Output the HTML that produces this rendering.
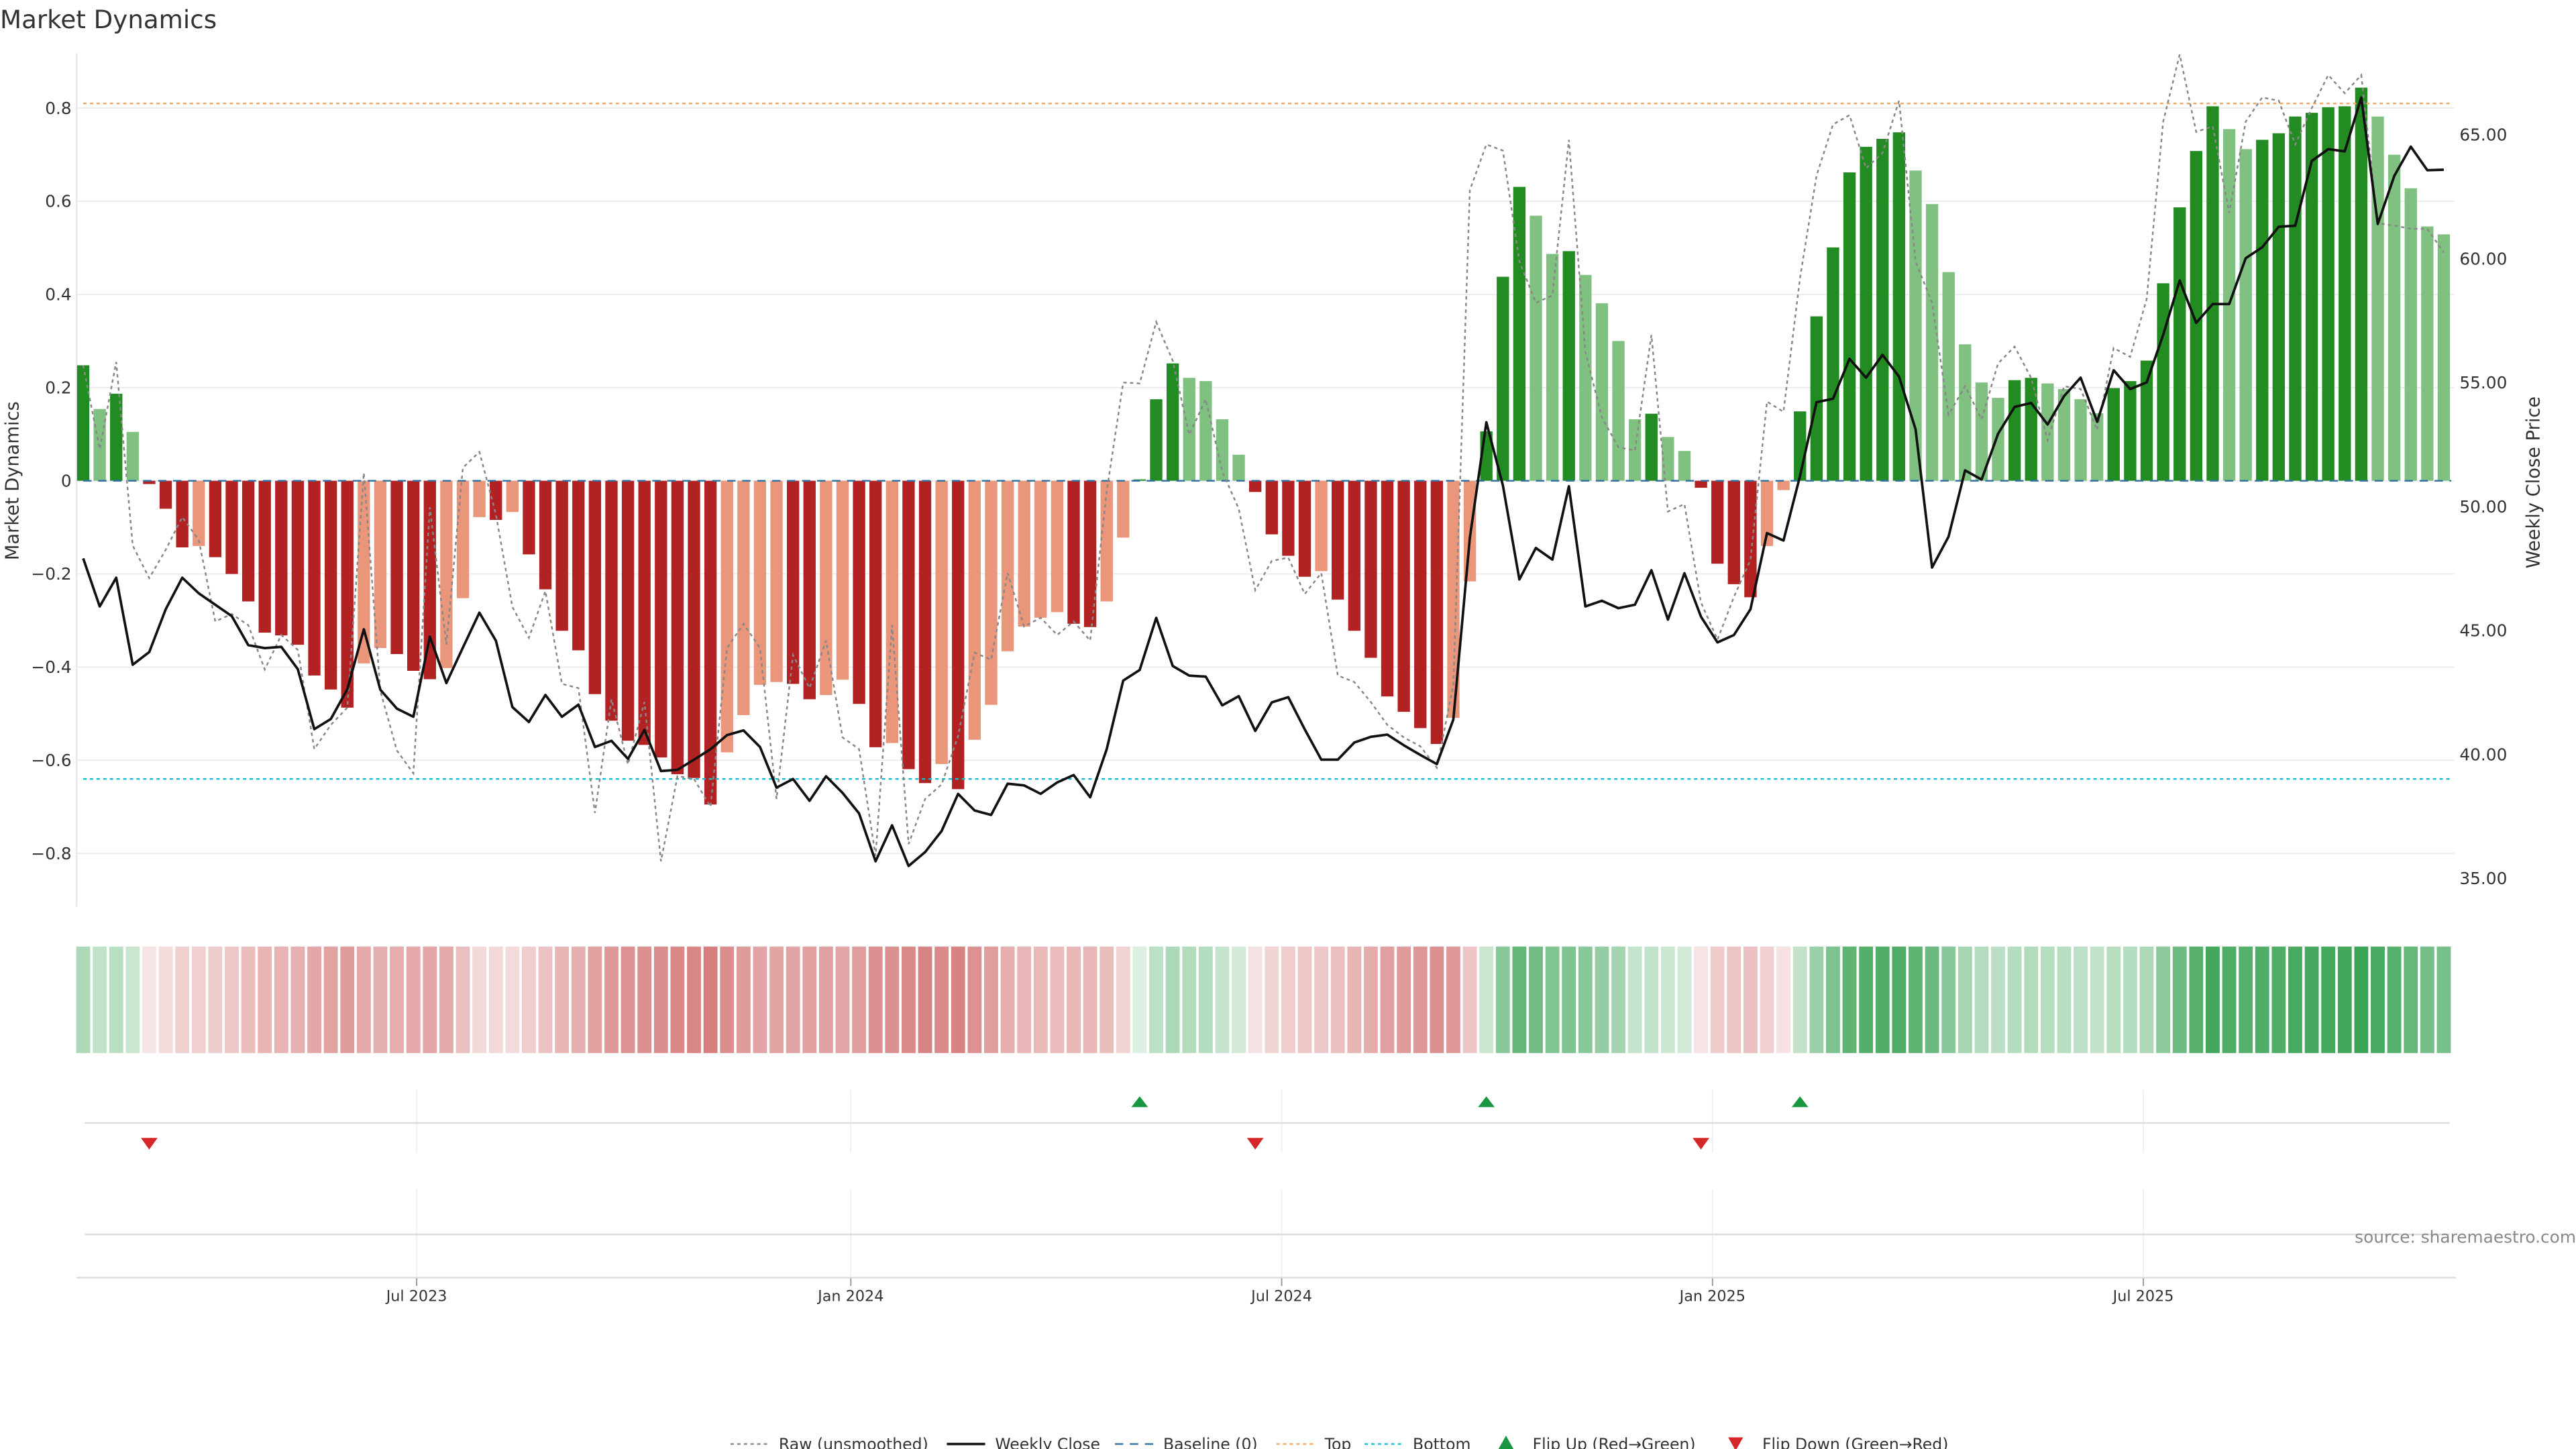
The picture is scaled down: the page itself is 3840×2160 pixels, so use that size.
<!DOCTYPE html>
<html><head><meta charset="utf-8"><style>
html,body{margin:0;padding:0;background:#fff;}
svg{display:block;font-family:"DejaVu Sans","Liberation Sans",sans-serif;}
</style></head><body>
<svg id="chart" width="3840" height="2160" viewBox="0 0 1548 871" preserveAspectRatio="none" xmlns="http://www.w3.org/2000/svg">
<text x="0" y="17" font-size="15" fill="#333">Market Dynamics</text>
<g id="main"></g>
<g id="strip"></g>
<g id="flips"></g>
<g id="legend"></g>
</svg>
<script>
const dyn = [0.248,0.154,0.187,0.105,-0.007,-0.06,-0.143,-0.14,-0.164,-0.2,-0.259,-0.326,-0.332,-0.352,-0.418,-0.448,-0.487,-0.392,-0.359,-0.372,-0.408,-0.426,-0.402,-0.252,-0.078,-0.084,-0.067,-0.158,-0.233,-0.322,-0.364,-0.458,-0.515,-0.558,-0.567,-0.594,-0.63,-0.638,-0.695,-0.583,-0.503,-0.438,-0.432,-0.436,-0.469,-0.46,-0.427,-0.479,-0.572,-0.563,-0.619,-0.649,-0.608,-0.662,-0.556,-0.481,-0.366,-0.313,-0.294,-0.282,-0.307,-0.314,-0.259,-0.122,0.003,0.175,0.252,0.221,0.214,0.132,0.056,-0.024,-0.115,-0.161,-0.206,-0.194,-0.255,-0.322,-0.38,-0.463,-0.496,-0.531,-0.565,-0.509,-0.216,0.106,0.438,0.631,0.569,0.487,0.493,0.442,0.381,0.3,0.132,0.144,0.094,0.064,-0.015,-0.178,-0.222,-0.25,-0.14,-0.02,0.149,0.353,0.501,0.662,0.717,0.734,0.748,0.666,0.594,0.448,0.293,0.211,0.178,0.216,0.221,0.209,0.197,0.175,0.145,0.199,0.214,0.258,0.424,0.587,0.708,0.804,0.755,0.712,0.732,0.746,0.782,0.79,0.802,0.804,0.844,0.782,0.7,0.628,0.546,0.529];
const raw = [0.248,0.068,0.255,-0.139,-0.209,-0.148,-0.078,-0.127,-0.302,-0.286,-0.31,-0.405,-0.331,-0.363,-0.576,-0.524,-0.487,0.017,-0.451,-0.579,-0.628,-0.057,-0.351,0.028,0.062,-0.072,-0.271,-0.337,-0.237,-0.436,-0.445,-0.713,-0.469,-0.609,-0.475,-0.817,-0.634,-0.64,-0.7,-0.359,-0.307,-0.359,-0.683,-0.374,-0.445,-0.343,-0.551,-0.576,-0.805,-0.31,-0.78,-0.683,-0.652,-0.548,-0.369,-0.384,-0.198,-0.313,-0.294,-0.331,-0.302,-0.343,-0.023,0.211,0.209,0.341,0.258,0.099,0.175,0.02,-0.06,-0.235,-0.172,-0.165,-0.243,-0.198,-0.418,-0.432,-0.475,-0.524,-0.551,-0.57,-0.616,-0.438,0.624,0.722,0.709,0.471,0.382,0.398,0.732,0.276,0.136,0.072,0.065,0.313,-0.066,-0.05,-0.261,-0.341,-0.249,-0.17,0.17,0.148,0.435,0.655,0.765,0.785,0.671,0.704,0.816,0.471,0.382,0.142,0.203,0.132,0.252,0.288,0.221,0.087,0.203,0.197,0.109,0.285,0.266,0.39,0.771,0.915,0.749,0.761,0.575,0.771,0.823,0.816,0.722,0.8,0.871,0.832,0.871,0.553,0.548,0.541,0.541,0.49];
const closePx = [47.91,45.97,47.13,43.62,44.13,45.86,47.13,46.5,46.04,45.58,44.41,44.29,44.34,43.44,41.02,41.43,42.63,45.05,42.61,41.85,41.52,44.75,42.88,44.31,45.72,44.59,41.91,41.31,42.4,41.52,42.01,40.3,40.55,39.82,40.99,39.33,39.38,39.79,40.21,40.78,40.97,40.3,38.66,39.01,38.13,39.12,38.45,37.62,35.69,37.14,35.5,36.06,36.91,38.41,37.74,37.56,38.82,38.75,38.41,38.87,39.17,38.27,40.21,42.98,43.41,45.51,43.57,43.18,43.14,41.98,42.35,40.95,42.1,42.31,41.01,39.79,39.79,40.48,40.71,40.8,40.37,39.98,39.61,41.41,48.74,53.4,50.86,47.06,48.33,47.86,50.82,45.97,46.2,45.9,46.04,47.43,45.44,47.31,45.56,44.52,44.82,45.86,48.93,48.63,51.23,54.21,54.35,55.96,55.2,56.12,55.24,53.12,47.54,48.79,51.46,51.09,52.94,54.02,54.18,53.31,54.46,55.2,53.42,55.5,54.74,55.01,56.93,59.12,57.41,58.17,58.17,60.02,60.46,61.29,61.33,63.94,64.42,64.33,66.5,61.4,63.34,64.52,63.57,63.59];
const leftTicks = [0.8,0.6,0.4,0.2,0,-0.2,-0.4,-0.6,-0.8];
const leftTickLabels = ["0.8","0.6","0.4","0.2","0","\u22120.2","\u22120.4","\u22120.6","\u22120.8"];
const rightTicks = [65,60,55,50,45,40,35];
const rightTickLabels = ["65.00","60.00","55.00","50.00","45.00","40.00","35.00"];
const dateTickWeeks = [20.2,46.5,72.6,98.7,124.8];
const dateTickLabels = ["Jul 2023","Jan 2024","Jul 2024","Jan 2025","Jul 2025"];
const topLevel = 0.81, bottomLevel = -0.64;

const NS="http://www.w3.org/2000/svg";
function mk(tag, attrs, parent){const e=document.createElementNS(NS,tag);for(const k in attrs)e.setAttribute(k,attrs[k]);parent.appendChild(e);return e;}
const X0=50, STEP=9.92;
const xs = i => X0 + i*STEP;
const yL = v => 289 - v*280;
const yR = p => 81 + (65-p)*14.9;
const PL=46, PR=1475;
const main=document.getElementById('main');

// grid
leftTicks.forEach((t,i)=>{
  const g=mk('line',{x1:PL,x2:PR,y1:yL(t),y2:yL(t),stroke:'#ececf0','stroke-width':0.8},main);
  
  
  const tx=mk('text',{x:43,y:yL(t)+3.5,'font-size':10,'text-anchor':'end',fill:'#333'},main);
  tx.textContent=leftTickLabels[i];
  
  
});
rightTicks.forEach((t,i)=>{
  const tx=mk('text',{x:1478,y:yR(t)+3.5,'font-size':10,'text-anchor':'start',fill:'#333'},main);
  tx.textContent=rightTickLabels[i];
  
  
});
const sp=mk('line',{x1:PL,x2:PL,y1:32,y2:545,stroke:'#e6e6ee','stroke-width':1},main);


let yl=mk('text',{x:0,y:0,'font-size':11,'text-anchor':'middle',fill:'#333',transform:'translate(11,289) rotate(-90)'},main);
yl.textContent='Market Dynamics';


let yr=mk('text',{x:0,y:0,'font-size':11,'text-anchor':'middle',fill:'#333',transform:'translate(1526,290) rotate(-90)'},main);
yr.textContent='Weekly Close Price';



// bars
dyn.forEach((v,i)=>{
  const prev = i>0?dyn[i-1]:0;
  let col;
  if(v>=0) col = (v>=prev)?'#228b22':'#80c080';
  else col = (v<prev)?'#b22222':'#e9967a';
  const y0=yL(0), y1=yL(v);
  const r=mk('rect',{x:xs(i)-3.7,y:Math.min(y0,y1),width:7.4,height:Math.max(0.3,Math.abs(y1-y0)),fill:col},main);
  
  
});
// ref lines
let l=mk('line',{x1:PL+4,x2:PR-2,y1:yL(0),y2:yL(0),stroke:'#2f6f9f','stroke-width':1,'stroke-dasharray':'5,4'},main);


l=mk('line',{x1:PL+4,x2:PR-2,y1:yL(topLevel),y2:yL(topLevel),stroke:'#f0a868','stroke-width':1,'stroke-dasharray':'2,2'},main);


l=mk('line',{x1:PL+4,x2:PR-2,y1:yL(bottomLevel),y2:yL(bottomLevel),stroke:'#17becf','stroke-width':1,'stroke-dasharray':'2,2'},main);


// raw line
let p=mk('polyline',{points:raw.map((v,i)=>xs(i)+','+yL(v)).join(' '),fill:'none',stroke:'#888','stroke-width':1,'stroke-dasharray':'2,2'},main);


p=mk('polyline',{points:closePx.map((v,i)=>xs(i)+','+yR(v)).join(' '),fill:'none',stroke:'#111','stroke-width':1.5,'stroke-linejoin':'round'},main);



// strip
const strip=document.getElementById('strip');
dyn.forEach((v,i)=>{
  const a=Math.min(1,0.15+Math.abs(v)*0.85);
  const c=v>=0?[30,150,60]:[200,80,80];
  const f=c.map(ch=>Math.round(255-a*(255-ch)));
  const r=mk('rect',{x:xs(i)-4.2,y:569,width:8.4,height:64,fill:'rgb('+f.join(',')+')'},strip);
  
  
});

// flips panel
const fl=document.getElementById('flips');
dateTickWeeks.forEach((w,i)=>{
  const x=xs(w);
  let g=mk('line',{x1:x,x2:x,y1:655,y2:693,stroke:'#f0f0f3','stroke-width':0.8},fl);
  
  
  g=mk('line',{x1:x,x2:x,y1:715,y2:768,stroke:'#f0f0f3','stroke-width':0.8},fl);
  
  
  g=mk('line',{x1:x,x2:x,y1:768,y2:773,stroke:'#999','stroke-width':0.8},fl);
  
  
  const t=mk('text',{x:x,y:782,'font-size':9,'text-anchor':'middle',fill:'#333'},fl);
  t.textContent=dateTickLabels[i];
  
  
});
[[675,51,1472],[742,51,1472],[768,46,1476]].forEach(a=>{
  const g=mk('line',{x1:a[1],x2:a[2],y1:a[0],y2:a[0],stroke:'#dcdcdc','stroke-width':1},fl);
  
  
});
dyn.forEach((v,i)=>{
  if(i===0) return;
  const pv=dyn[i-1];
  const x=xs(i);
  if(pv<0 && v>=0){
    const t=mk('polygon',{points:(x-5)+',665.5 '+(x+5)+',665.5 '+x+',659',fill:'#1a9641'},fl);
    
    
  } else if(pv>=0 && v<0){
    const t=mk('polygon',{points:(x-5)+',684 '+(x+5)+',684 '+x+',691',fill:'#d62728'},fl);
    
    
  }
});
let s=mk('text',{x:1548,y:747,'font-size':10,'text-anchor':'end',fill:'#888'},fl);
s.textContent='source: sharemaestro.com';



// legend
const lg=document.getElementById('legend');
const items=[
 {t:'Raw (unsmoothed)',x:439,type:'line',c:'#888',d:'2,2',w:1},
 {t:'Weekly Close',x:569,type:'line',c:'#111',d:'',w:1.5},
 {t:'Baseline (0)',x:670,type:'line',c:'#2f6f9f',d:'5,4',w:1},
 {t:'Top',x:767,type:'line',c:'#f0a868',d:'2,2',w:1},
 {t:'Bottom',x:820,type:'line',c:'#17becf',d:'2,2',w:1},
 {t:'Flip Up (Red\u2192Green)',x:899,type:'up',c:'#1a9641'},
 {t:'Flip Down (Green\u2192Red)',x:1037,type:'down',c:'#d62728'}
];
items.forEach(it=>{
  const g=mk('g',{},lg);
  
  
  let tx;
  if(it.type==='line'){
    mk('line',{x1:it.x,x2:it.x+23,y1:868,y2:868,stroke:it.c,'stroke-width':it.w,'stroke-dasharray':it.d},g);
    tx=it.x+29;
  } else {
    const cx=it.x+6;
    mk('polygon',{points:it.type==='up'?(cx-4.5)+',871 '+(cx+4.5)+',871 '+cx+',863':(cx-4.5)+',864 '+(cx+4.5)+',864 '+cx+',872',fill:it.c},g);
    tx=it.x+22;
  }
  const t=mk('text',{x:tx,y:871.5,'font-size':9.5,fill:'#333'},g);
  t.textContent=it.t;
});
</script>
</body></html>
